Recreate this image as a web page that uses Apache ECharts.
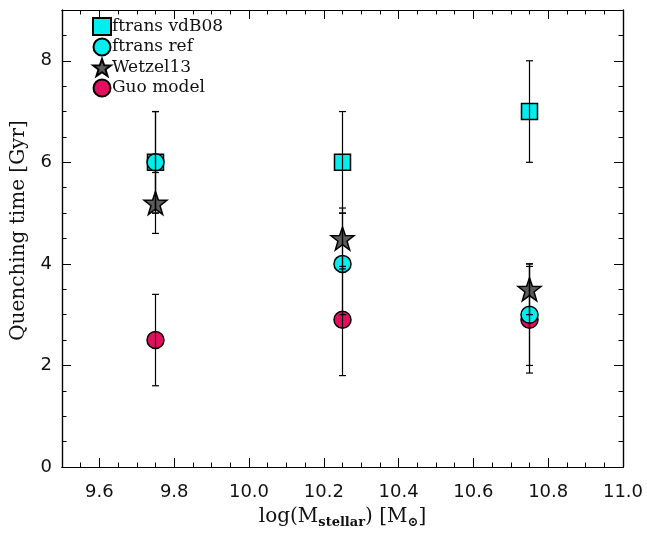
<!DOCTYPE html>
<html>
<head>
<meta charset="utf-8">
<script src="https://cdn.jsdelivr.net/npm/echarts@6/dist/echarts.min.js"></script>
<style>html,body{margin:0;padding:0;background:#fff}#c{width:647px;height:534px}</style>
</head>
<body>
<div id="c"></div>
<script>
// ---- data ----
const massBins = [9.75, 10.25, 10.75];
const vdB08 = [6.0, 6.0, 7.0];
const vdB08Lo = [5.0, 5.0, 6.0];
const vdB08Hi = [7.0, 7.0, 8.0];
const ftransRef = [6.0, 4.0, 3.0];
const ftransRefLo = [5.0, 3.0, 2.0];
const ftransRefHi = [7.0, 5.0, 4.0];
const wetzel = [5.2, 4.5, 3.5];
const wetzelLo = [4.6, 3.9, 3.0];
const wetzelHi = [5.8, 5.1, 4.0];
const guo = [2.5, 2.9, 2.9];
const guoLo = [1.6, 1.8, 1.85];
const guoHi = [3.4, 3.95, 3.95];
const seriesNames = ['ftrans vdB08', 'ftrans ref', 'Wetzel13', 'Guo model'];
const xMin = 9.5, xMax = 11.0, yMin = 0, yMax = 9;

const STAR = 'path://M50,0 L62,34 L98,35 L69,57 L80,92 L50,71 L20,92 L31,57 L2,35 L38,34 Z';
const CYAN = '#00eeee', GUO = '#e0105f', GRAY = '#5c5c5c';

function pts(vals) { return massBins.map((x, i) => [x, vals[i]]); }
function errs(lo, hi) { return massBins.map((x, i) => [x, lo[i], hi[i]]); }

function errSeries(lo, hi) {
  return {
    type: 'custom', xAxisIndex: 0, yAxisIndex: 0, z: 5, silent: true,
    data: errs(lo, hi),
    renderItem: function (params, api) {
      const top = api.coord([api.value(0), api.value(2)]);
      const bot = api.coord([api.value(0), api.value(1)]);
      const w = 3.5;
      const st = { stroke: '#000', lineWidth: 1.2 };
      return { type: 'group', children: [
        { type: 'line', shape: { x1: top[0], y1: top[1], x2: bot[0], y2: bot[1] }, style: st },
        { type: 'line', shape: { x1: top[0] - w, y1: top[1], x2: top[0] + w, y2: top[1] }, style: st },
        { type: 'line', shape: { x1: bot[0] - w, y1: bot[1], x2: bot[0] + w, y2: bot[1] }, style: st }
      ]};
    }
  };
}

const tickFont = { fontFamily: 'DejaVu Sans', fontSize: 18, color: '#111' };

function xAx(pos, major, labels) {
  const a = {
    type: 'value', position: pos, min: xMin, max: xMax,
    axisLine: { show: true, onZero: false, lineStyle: { color: '#000', width: 1.2 } },
    axisTick: { show: true, inside: true, length: major ? 9 : 4.5, lineStyle: { color: '#000', width: 1 } },
    axisLabel: { show: false },
    splitLine: { show: false }
  };
  if (major) a.splitNumber = 8; else a.interval = 0.05;
  if (labels) {
    a.axisLabel = Object.assign({ show: true, margin: 16, showMinLabel: false, formatter: v => v.toFixed(1) }, tickFont);
    a.name = 'log(M{sub|stellar}) [M{sub|⊙}]';
    a.nameLocation = 'middle';
    a.nameGap = 38;
    a.nameTextStyle = {
      fontFamily: 'DejaVu Serif', fontSize: 20, color: '#111',
      rich: { sub: { fontFamily: 'DejaVu Serif', fontSize: 13, fontWeight: 'bold', color: '#111', padding: [11, 0, 0, 0] } }
    };
  }
  return a;
}
function yAx(pos, major, labels) {
  const a = {
    type: 'value', position: pos, min: yMin, max: yMax,
    interval: major ? 2 : 0.5,
    axisLine: { show: true, onZero: false, lineStyle: { color: '#000', width: 1.2 } },
    axisTick: { show: true, inside: true, length: major ? 9 : 4.5, lineStyle: { color: '#000', width: 1 } },
    axisLabel: { show: false },
    splitLine: { show: false }
  };
  if (labels) {
    a.axisLabel = Object.assign({ show: true, margin: 10, showMaxLabel: false }, tickFont);
    a.name = 'Quenching time [Gyr]';
    a.nameLocation = 'middle';
    a.nameGap = 33;
    a.nameTextStyle = { fontFamily: 'DejaVu Serif', fontSize: 20, color: '#111', padding: [0, 0, 0, 16] };
  }
  return a;
}

const chart = echarts.init(document.getElementById('c'), null, { renderer: 'canvas' });
chart.setOption({
  animation: false,
  backgroundColor: '#fff',
  grid: { left: 62, right: 24, top: 10, bottom: 63, containLabel: false },
  legend: {
    orient: 'vertical', left: 87, top: 12, itemGap: 1.5, itemWidth: 18, itemHeight: 17,
    selectedMode: false,
    textStyle: { fontFamily: 'DejaVu Serif', fontSize: 17, color: '#111', padding: [0, 0, 0, -4] },
    data: [
      { name: seriesNames[0], icon: 'rect' },
      { name: seriesNames[1], icon: 'circle' },
      { name: seriesNames[2], icon: STAR },
      { name: seriesNames[3], icon: 'circle' }
    ]
  },
  xAxis: [xAx('bottom', true, true), xAx('bottom', false, false), xAx('top', true, false), xAx('top', false, false)],
  yAxis: [yAx('left', true, true), yAx('left', false, false), yAx('right', true, false), yAx('right', false, false)],
  series: [
    { name: seriesNames[0], type: 'scatter', xAxisIndex: 0, yAxisIndex: 0, z: 2, symbol: 'rect', symbolSize: 16,
      itemStyle: { color: CYAN, borderColor: '#000', borderWidth: 1.5, opacity: 1 }, data: pts(vdB08) },
    { name: seriesNames[1], type: 'scatter', xAxisIndex: 0, yAxisIndex: 0, z: 2, symbol: 'circle', symbolSize: 17,
      itemStyle: { color: CYAN, borderColor: '#000', borderWidth: 1.5, opacity: 1 }, data: pts(ftransRef) },
    { name: seriesNames[3], type: 'scatter', xAxisIndex: 0, yAxisIndex: 0, z: 1, symbol: 'circle', symbolSize: 17,
      itemStyle: { color: GUO, borderColor: '#000', borderWidth: 1.5, opacity: 1 }, data: pts(guo) },
    { name: seriesNames[2], type: 'scatter', xAxisIndex: 0, yAxisIndex: 0, z: 3, symbol: STAR, symbolSize: 23,
      itemStyle: { color: GRAY, borderColor: '#000', borderWidth: 1.5, opacity: 1 }, data: pts(wetzel) },
    errSeries(vdB08Lo, vdB08Hi),
    errSeries(ftransRefLo, ftransRefHi),
    errSeries(wetzelLo, wetzelHi),
    errSeries(guoLo, guoHi)
  ]
});
</script>
</body>
</html>
